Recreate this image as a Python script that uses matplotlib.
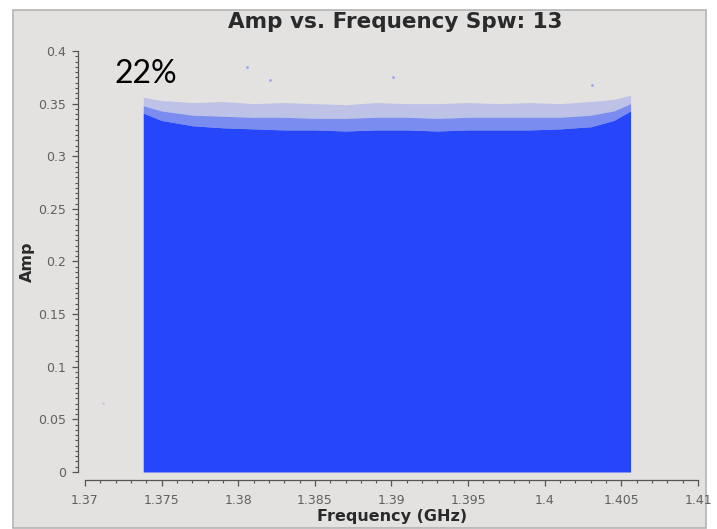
import matplotlib
matplotlib.use("Agg")
import matplotlib.pyplot as plt
from matplotlib.patches import Rectangle
from matplotlib.ticker import MultipleLocator

# Envelope of the amplitude scatter, per frequency channel
freq_ghz = [1.3738, 1.3750, 1.3770, 1.3790, 1.3810, 1.3830, 1.3850, 1.3870, 1.3890,
            1.3910, 1.3930, 1.3950, 1.3970, 1.3990, 1.4010, 1.4030, 1.4045, 1.4056]
amp_dense = [0.341, 0.334, 0.329, 0.327, 0.326, 0.325, 0.325, 0.324, 0.325,
             0.325, 0.324, 0.325, 0.325, 0.325, 0.326, 0.328, 0.334, 0.343]
amp_mid = [0.348, 0.343, 0.339, 0.338, 0.337, 0.337, 0.336, 0.336, 0.337,
           0.337, 0.336, 0.337, 0.337, 0.337, 0.337, 0.339, 0.343, 0.350]
amp_peak = [0.356, 0.353, 0.351, 0.352, 0.350, 0.351, 0.350, 0.349, 0.351,
            0.350, 0.350, 0.351, 0.350, 0.351, 0.350, 0.352, 0.354, 0.358]

# Stray high points above the envelope
outlier_freq = [1.3712, 1.3806, 1.3821, 1.3901, 1.4031]
outlier_amp = [0.0655, 0.385, 0.372, 0.375, 0.368]

title = "Amp vs. Frequency Spw: 13"
flag_label = "22%"
blue = "#2546fb"
panel = "#e3e2e1"

fig = plt.figure(figsize=(7.17, 5.29), dpi=100)
fig.patch.set_facecolor("white")
fig.patches.append(Rectangle((13 / 717, 1 / 529), 693 / 717, 518 / 529,
                             transform=fig.transFigure, facecolor=panel,
                             edgecolor="#b4b4b4", linewidth=1.2, zorder=-10))

ax = fig.add_axes([85 / 717, 57 / 529, 613 / 717, 421 / 529])
ax.set_facecolor("none")

ax.fill_between(freq_ghz, 0, amp_dense, color=blue, linewidth=0)
ax.fill_between(freq_ghz, amp_dense, amp_mid, color=blue, alpha=0.55, linewidth=0)
ax.fill_between(freq_ghz, amp_mid, amp_peak, color=blue, alpha=0.2, linewidth=0)
ax.scatter(outlier_freq[:1], outlier_amp[:1], s=4, color="#c9cbe0", linewidths=0)
ax.scatter(outlier_freq[1:], outlier_amp[1:], s=4, color="#9aa6f5", linewidths=0)

ax.set_xlim(1.37, 1.41)
ax.set_ylim(0, 0.4)
ax.xaxis.set_minor_locator(MultipleLocator(0.001))
ax.yaxis.set_minor_locator(MultipleLocator(0.005))
ax.set_xticks([1.37, 1.375, 1.38, 1.385, 1.39, 1.395, 1.4, 1.405, 1.41],
              ["1.37", "1.375", "1.38", "1.385", "1.39", "1.395", "1.4", "1.405", "1.41"])
ax.set_yticks([0, 0.05, 0.1, 0.15, 0.2, 0.25, 0.3, 0.35, 0.4],
              ["0", "0.05", "0.1", "0.15", "0.2", "0.25", "0.3", "0.35", "0.4"])

for side in ["top", "right"]:
    ax.spines[side].set_visible(False)
ax.spines["left"].set_position(("outward", 5))
ax.spines["bottom"].set_position(("outward", 6))
for side in ["left", "bottom"]:
    ax.spines[side].set_color("#555555")
    ax.spines[side].set_linewidth(0.9)
ax.tick_params(which="major", length=4.5, width=0.9, color="#555555",
               labelsize=9, labelcolor="#606060")
ax.tick_params(axis="x", which="major", pad=5)
ax.tick_params(axis="y", which="major", pad=4)
ax.tick_params(which="minor", length=2.5, width=0.8, color="#555555")

fig.text(395 / 717, 1 - 22 / 529, title, ha="center", va="center",
         fontsize=15.5, fontweight="bold", color="#2a2a2a")
fig.text(392 / 717, 1 - 517 / 529, "Frequency (GHz)", ha="center", va="center",
         fontsize=11.5, fontweight="bold", color="#2a2a2a")
fig.text(27 / 717, 1 - 262 / 529, "Amp", ha="center", va="center", rotation=90,
         fontsize=11.5, fontweight="bold", color="#2a2a2a")
fig.text(115 / 717, 1 - 83 / 529, flag_label, ha="left", va="baseline",
         fontsize=23, family=["Lato", "DejaVu Sans"], color="black")

fig.savefig("out.png", dpi=100)
